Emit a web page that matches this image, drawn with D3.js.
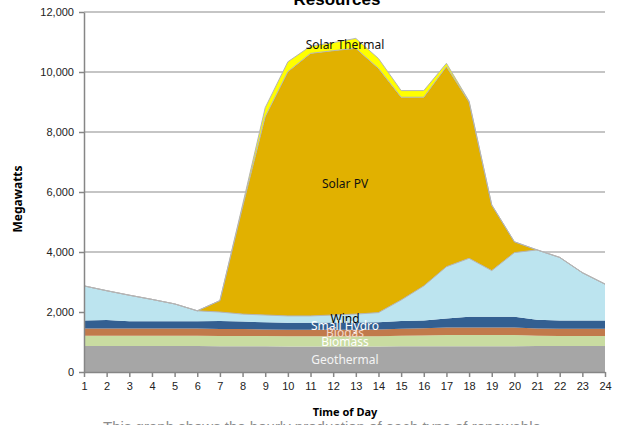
<!DOCTYPE html>
<html>
<head>
<meta charset="utf-8">
<script src="https://cdn.jsdelivr.net/npm/d3@7"></script>
<style>
  body { margin: 0; background: #fff; }
  svg { display: block; }
</style>
</head>
<body>
<div id="chart"></div>
<script>
var svgWidth = 619;
var svgHeight = 425;

// hours of the day
var hours = d3.range(1, 25);
var yTicks = [0, 2000, 4000, 6000, 8000, 10000, 12000];

// megawatts per resource, hour 1..24
var geothermal = [870, 870, 870, 870, 870, 870, 860, 860, 860, 850, 850, 850, 850, 850, 860, 860, 860, 860, 860, 860, 870, 870, 870, 870];
var biomass = [340, 340, 340, 340, 340, 340, 340, 340, 340, 340, 340, 340, 340, 340, 350, 360, 370, 370, 370, 370, 340, 330, 330, 330];
var biogas = [240, 240, 240, 240, 240, 240, 230, 230, 220, 220, 220, 220, 220, 230, 230, 240, 250, 250, 250, 250, 240, 240, 240, 240];
var smallHydro = [270, 280, 240, 240, 240, 240, 270, 250, 240, 230, 230, 240, 240, 240, 260, 260, 300, 360, 360, 360, 290, 280, 280, 280];
var wind = [1150, 980, 870, 730, 580, 350, 300, 250, 240, 230, 230, 250, 280, 320, 700, 1150, 1730, 1950, 1540, 2140, 2330, 2100, 1590, 1210];
var solarPV = [0, 0, 0, 0, 0, 0, 380, 3570, 6610, 8140, 8750, 8810, 8860, 8140, 6760, 6290, 6670, 5210, 2190, 360, 0, 0, 0, 0];
var solarThermal = [0, 0, 0, 0, 0, 0, 0, 70, 300, 330, 240, 270, 330, 330, 220, 220, 110, 30, 0, 0, 0, 0, 0, 0];

var seriesNames = ["Geothermal", "Biomass", "Biogas", "Small Hydro", "Wind", "Solar PV", "Solar Thermal"];
var seriesValues = [geothermal, biomass, biogas, smallHydro, wind, solarPV, solarThermal];
var colors = ["#a6a6a6", "#c9dca1", "#c17a4b", "#335f91", "#bce4ef", "#e1b100", "#ffff00"];

var margin = { top: 12, right: 14, bottom: 53, left: 84 };
var width = svgWidth - margin.left - margin.right;
var height = svgHeight - margin.top - margin.bottom;

var rows = hours.map(function(h, i) {
  var row = { hour: h };
  seriesNames.forEach(function(name, j) { row[name] = seriesValues[j][i]; });
  return row;
});

var svg = d3.select("#chart")
  .append("svg")
  .attr("width", svgWidth)
  .attr("height", svgHeight);

var chart = svg.append("g")
  .attr("transform", `translate(${margin.left}, ${margin.top})`);

var x = d3.scalePoint()
  .domain(hours)
  .range([0, width])
  .padding(0);

var y = d3.scaleLinear()
  .domain([0, 12000])
  .range([height, 0]);

// gridlines behind the areas
chart.append("g")
  .selectAll("line")
  .data(yTicks.slice(1))
  .enter()
  .append("line")
  .attr("x1", 0)
  .attr("x2", width)
  .attr("y1", d => y(d))
  .attr("y2", d => y(d))
  .attr("stroke", "#8c8c8c")
  .attr("stroke-width", 1.2);

var stacked = d3.stack().keys(seriesNames)(rows);

var area = d3.area()
  .x(d => x(d.data.hour))
  .y0(d => y(d[0]))
  .y1(d => y(d[1]));

chart.append("g")
  .selectAll("path")
  .data(stacked)
  .enter()
  .append("path")
  .attr("d", area)
  .attr("fill", (d, i) => colors[i]);

// grey top edge on the upper series
var topLine = d3.line()
  .x(d => x(d.data.hour))
  .y(d => y(d[1]));

chart.append("g")
  .selectAll("path")
  .data(stacked.slice(4))
  .enter()
  .append("path")
  .attr("d", topLine)
  .attr("fill", "none")
  .attr("stroke", "#b4b4b4")
  .attr("stroke-width", 1);

// axes
var leftAxis = d3.axisLeft(y)
  .tickValues(yTicks)
  .tickFormat(d3.format(","))
  .tickSize(5)
  .tickSizeOuter(0);

var bottomAxis = d3.axisBottom(x)
  .tickSize(5)
  .tickSizeOuter(0)
  .tickPadding(5);

var gy = chart.append("g").call(leftAxis);
var gx = chart.append("g").attr("transform", `translate(0, ${height})`).call(bottomAxis);

[gy, gx].forEach(function(g) {
  g.selectAll("path, line").attr("stroke", "#868686").attr("stroke-width", 1.5);
  g.selectAll("text")
    .attr("fill", "#222")
    .attr("font-family", "Liberation Sans, Arial, sans-serif")
    .attr("font-size", "11px");
});
gy.selectAll("text").attr("x", -10);

// series labels
var labelFont = "Noto Sans, Open Sans, sans-serif";
var labels = [
  { text: "Solar Thermal", y: 49, fill: "#111" },
  { text: "Solar PV", y: 188, fill: "#111" },
  { text: "Wind", y: 322.5, fill: "#000" },
  { text: "Small Hydro", y: 330, fill: "#ffffff" },
  { text: "Biogas", y: 337, fill: "#f4d7c8" },
  { text: "Biomass", y: 346, fill: "#ffffff" },
  { text: "Geothermal", y: 364, fill: "#f4f4f4" }
];

svg.append("g")
  .selectAll("text")
  .data(labels)
  .enter()
  .append("text")
  .attr("x", 345)
  .attr("y", d => d.y)
  .attr("text-anchor", "middle")
  .attr("font-family", labelFont)
  .attr("font-size", "12px")
  .attr("fill", d => d.fill)
  .text(d => d.text);

// titles
svg.append("text")
  .attr("x", 337)
  .attr("y", 5)
  .attr("text-anchor", "middle")
  .attr("font-family", "Liberation Sans, Arial, sans-serif")
  .attr("font-weight", "bold")
  .attr("font-size", "17px")
  .attr("fill", "#000")
  .text("Resources");

svg.append("text")
  .attr("transform", "rotate(-90)")
  .attr("x", -199)
  .attr("y", 22)
  .attr("text-anchor", "middle")
  .attr("font-family", labelFont)
  .attr("font-weight", "bold")
  .attr("font-size", "12px")
  .attr("fill", "#000")
  .text("Megawatts");

svg.append("text")
  .attr("x", 345)
  .attr("y", 416)
  .attr("text-anchor", "middle")
  .attr("font-family", labelFont)
  .attr("font-weight", "bold")
  .attr("font-size", "11px")
  .attr("fill", "#000")
  .text("Time of Day");

svg.append("text")
  .attr("x", 322)
  .attr("y", 432)
  .attr("text-anchor", "middle")
  .attr("font-family", "Liberation Sans, Arial, sans-serif")
  .attr("font-size", "15px")
  .attr("fill", "#8c8c8c")
  .text("This graph shows the hourly production of each type of renewable");
</script>
</body>
</html>
